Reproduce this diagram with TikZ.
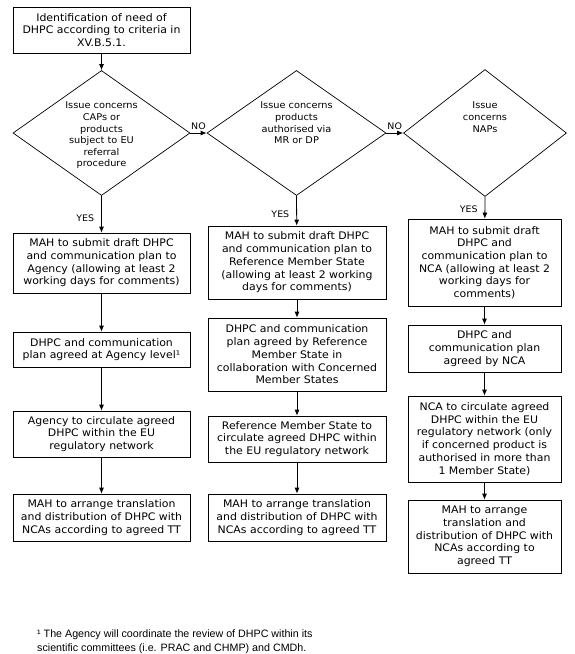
\documentclass[tikz,border=0pt]{standalone}
\usepackage{fontspec}
\setmainfont[FakeStretch=1.05]{DejaVu Sans}
\newfontfamily\notefont{Liberation Sans}
\usetikzlibrary{arrows.meta, shapes.geometric}

\tikzset{
  box/.style={draw, line width=0.7pt, align=center, inner sep=0pt,
    font=\fontsize{10.4}{12.7}\selectfont},
  decision/.style={diamond, draw, line width=0.7pt, inner sep=0pt},
  dtext/.style={align=center, anchor=north, inner sep=0pt,
    font=\fontsize{9.3}{11.6}\selectfont},
  answer/.style={font=\fontsize{9}{10}\selectfont, inner sep=1pt},
  arr/.style={-{Latex[length=6pt,width=5pt]}, line width=0.8pt}
}

\begin{document}
\begin{tikzpicture}[x=1pt,y=-1pt]
\useasboundingbox (0,0) rectangle (575,654);
%\draw[step=50pt,gray,very thin] (0,0) grid (575,654);
% start and decisions
\node[box, minimum width=177pt, minimum height=46pt] (need) at (101.5,30)
  {Identification of need of\\DHPC according to criteria in\\XV.B.5.1.};
\node[decision, minimum width=177pt, minimum height=125pt] (dcap) at (101.5,133) {};
\node[dtext] (tcap) at (101.5,102)
  {Issue concerns\\CAPs or\\products\\subject to EU\\referral\\procedure};
\node[decision, minimum width=179pt, minimum height=125pt] (dmr) at (296.5,133) {};
\node[dtext] (tmr) at (296.5,102)
  {Issue concerns\\products\\authorised via\\MR or DP};
\node[decision, minimum width=163pt, minimum height=127pt] (dnap) at (485,133) {};
\node[dtext] (tnap) at (485,102) {Issue\\concerns\\NAPs};
% CAP column
\node[box, minimum width=177pt, minimum height=60pt] (cap1) at (101.5,263)
  {MAH to submit draft DHPC\\and communication plan to\\Agency (allowing at least 2\\working days for comments)};
\node[box, minimum width=177pt, minimum height=35pt] (cap2) at (101.5,349.5)
  {DHPC and communication\\plan agreed at Agency level¹};
\node[box, minimum width=177pt, minimum height=46pt] (cap3) at (101.5,434)
  {Agency to circulate agreed\\DHPC within the EU\\regulatory network};
\node[box, minimum width=177pt, minimum height=47pt] (cap4) at (101.5,517.5)
  {MAH to arrange translation\\and distribution of DHPC with\\NCAs according to agreed TT};
% MR/DP column
\node[box, minimum width=178pt, minimum height=73pt] (mr1) at (297,262.5)
  {MAH to submit draft DHPC\\and communication plan to\\Reference Member State\\(allowing at least 2 working\\days for comments)};
\node[box, minimum width=178pt, minimum height=73pt] (mr2) at (297,354.5)
  {DHPC and communication\\plan agreed by Reference\\Member State in\\collaboration with Concerned\\Member States};
\node[box, minimum width=178pt, minimum height=46pt] (mr3) at (297,439)
  {Reference Member State to\\circulate agreed DHPC within\\the EU regulatory network};
\node[box, minimum width=178pt, minimum height=47pt] (mr4) at (297,517.5)
  {MAH to arrange translation\\and distribution of DHPC with\\NCAs according to agreed TT};
% NAP column
\node[box, minimum width=153pt, minimum height=87pt] (nap1) at (484.5,262.5)
  {MAH to submit draft\\DHPC and\\communication plan to\\NCA (allowing at least 2\\working days for\\comments)};
\node[box, minimum width=153pt, minimum height=47pt] (nap2) at (484.5,348.5)
  {DHPC and\\communication plan\\agreed by NCA};
\node[box, minimum width=153pt, minimum height=86pt] (nap3) at (484.5,439)
  {NCA to circulate agreed\\DHPC within the EU\\regulatory network (only\\if concerned product is\\authorised in more than\\1 Member State)};
\node[box, minimum width=153pt, minimum height=73pt] (nap4) at (484.5,536.5)
  {MAH to arrange\\translation and\\distribution of DHPC with\\NCAs according to\\agreed TT};
% arrows
\draw[arr] (need) -- (dcap);
\draw[arr] (dcap.east) -- node[answer, above=2pt] {NO} (dmr.west);
\draw[arr] (dmr.east) -- node[answer, above=2pt] {NO} (dnap.west);
\draw[arr] (dcap.south) -- node[answer, pos=0.6, left=6pt] {YES} (cap1);
\draw[arr] (dmr.south) -- node[answer, pos=0.6, left=6pt] {YES} (mr1);
\draw[arr] (dnap.south) -- node[answer, pos=0.55, left=6pt] {YES} (nap1);
\draw[arr] (cap1) -- (cap2);
\draw[arr] (cap2) -- (cap3);
\draw[arr] (cap3) -- (cap4);
\draw[arr] (mr1) -- (mr2);
\draw[arr] (mr2) -- (mr3);
\draw[arr] (mr3) -- (mr4);
\draw[arr] (nap1) -- (nap2);
\draw[arr] (nap2) -- (nap3);
\draw[arr] (nap3) -- (nap4);
% footnote
\node[anchor=north west, align=left, inner sep=0pt,
  font=\notefont\fontsize{10.7}{13.5}\selectfont] (note) at (37,630)
  {¹ The Agency will coordinate the review of DHPC within its\\scientific committees (i.e. PRAC and CHMP) and CMDh.};
\end{tikzpicture}
\end{document}
